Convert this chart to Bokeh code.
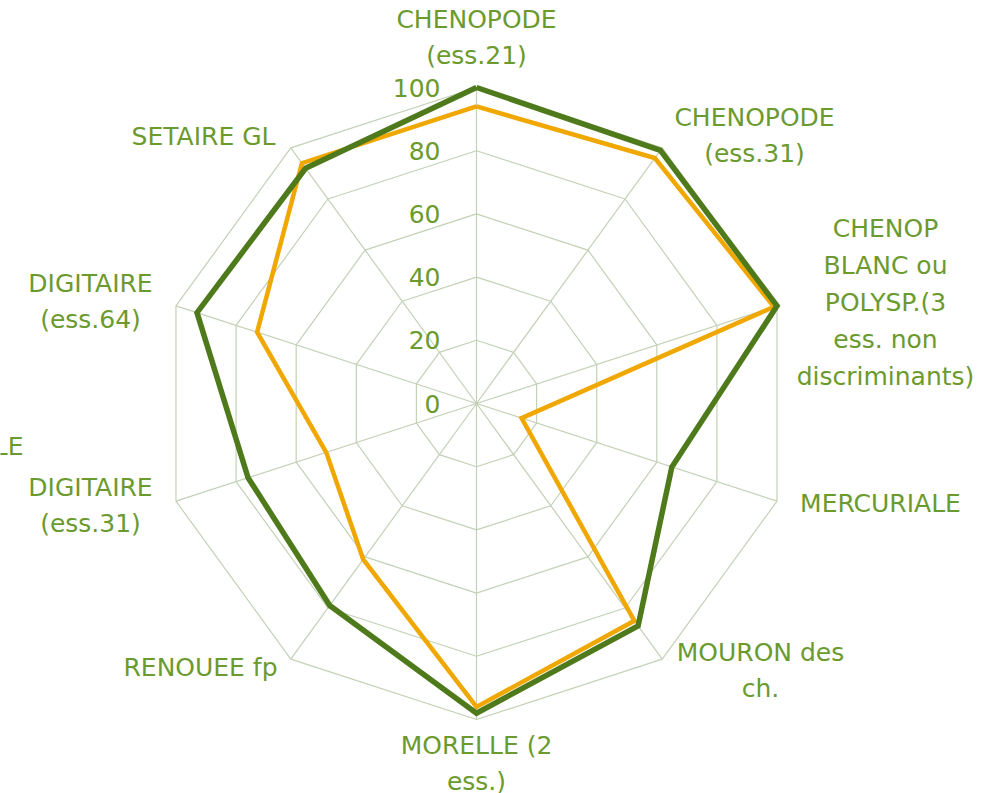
import numpy as np
from bokeh.plotting import figure
from bokeh.models import Range1d
from bokeh.core.properties import value
from bokeh.embed import file_html
from bokeh.resources import INLINE

# ---- data ----
categories = ["CHENOPODE\n(ess.21)", "CHENOPODE\n(ess.31)",
              "CHENOP\nBLANC ou\nPOLYSP.(3\ness. non\ndiscriminants)",
              "MERCURIALE", "MOURON des\nch.", "MORELLE (2\ness.)",
              "RENOUEE fp", "DIGITAIRE\n(ess.31)", "DIGITAIRE\n(ess.64)",
              "SETAIRE GL"]
series_green = [100, 99, 100, 65, 87, 98, 79, 76, 93, 92]
series_orange = [94, 96, 99, 15, 85, 96, 61, 50, 73, 94]
tick_values = [0, 20, 40, 60, 80, 100]
tick_labels = ["0", "20", "40", "60", "80", "100"]

# ---- layout (pixel-based) ----
W, H = 986, 793
CX, CY = 476, 403          # centre in picture coordinates
S = 3.16                   # px per unit
label_centres = [(476, 37), (754, 135), (885, 302), (880, 503), (760, 670),
                 (476, 763), (200, 667), (90, 505), (90, 301), (203, 136)]

def to_data(px, py):
    return (px - CX) / S, (CY - py) / S

p = figure(width=W, height=H, output_backend="svg", toolbar_location=None,
           x_range=Range1d((0 - CX) / S, (W - CX) / S),
           y_range=Range1d((CY - H) / S, (CY - 0) / S),
           min_border=0)
p.axis.visible = False
p.grid.visible = False
p.outline_line_color = None
p.background_fill_color = "white"

n = len(categories)
ang = np.arange(n) * 2 * np.pi / n

def polar(vals):
    v = np.asarray(vals, dtype=float)
    return list(v * np.sin(ang)), list(v * np.cos(ang))

grid_col = "#c3d1b6"
# grid decagons
for t in tick_values[1:]:
    xs, ys = polar([t] * n)
    p.line(xs + [xs[0]], ys + [ys[0]], line_color=grid_col, line_width=1.2)
# spokes
xs, ys = polar([100] * n)
p.multi_line([[0, x] for x in xs], [[0, y] for y in ys], line_color=grid_col, line_width=1.2)

# series
xo, yo = polar(series_orange)
p.line(xo + [xo[0]], yo + [yo[0]], line_color="#f0a800", line_width=4.5, line_join="miter")
xg, yg = polar(series_green)
p.line(xg + [xg[0]], yg + [yg[0]], line_color="#4f7a1c", line_width=5.5, line_join="miter")

txt_col = "#6b9a2e"
font = value("DejaVu Sans")
FS = "25px"
# tick labels
p.text(x=[-36 / S] * len(tick_values), y=tick_values, text=tick_labels,
       text_align="right", text_baseline="middle", text_font=font,
       text_font_size=FS, text_color=txt_col)

# category labels
lx, ly = zip(*[to_data(a, b) for a, b in label_centres])
p.text(x=list(lx), y=list(ly), text=categories, text_align="center",
       text_baseline="middle", text_font=font, text_font_size=FS,
       text_color=txt_col, text_line_height=1.27)

# clipped fragment at left edge
fx, fy = to_data(23, 446)
p.text(x=[fx], y=[fy], text=["LE"], text_align="right", text_baseline="middle",
       text_font=font, text_font_size=FS, text_color=txt_col)

open("out.html", "w").write(file_html(p, INLINE))
